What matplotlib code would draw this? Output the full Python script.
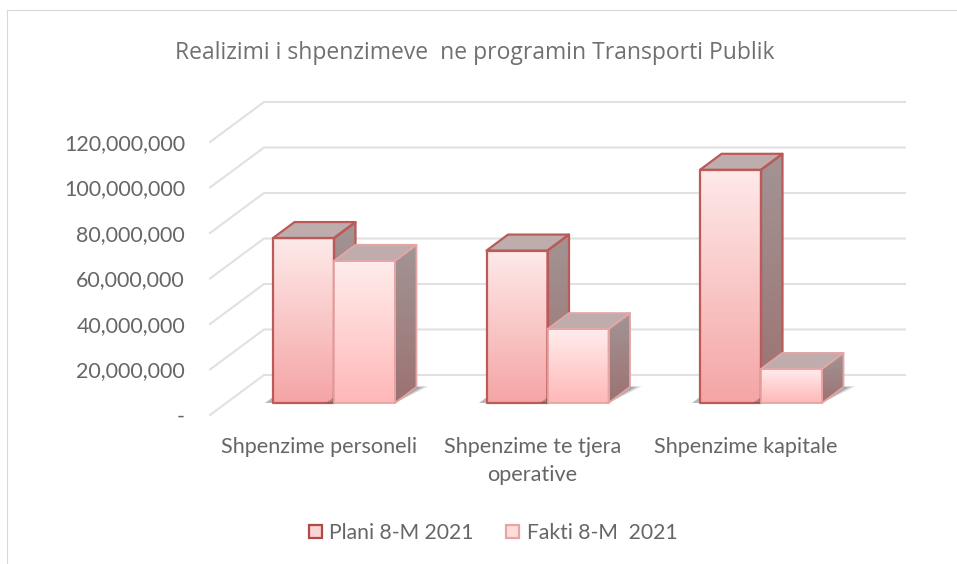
import numpy as np
import matplotlib.pyplot as plt
from matplotlib.patches import Patch, Polygon

plt.rcParams['font.family'] = ['Lato', 'DejaVu Sans']

categories = ['Shpenzime personeli', 'Shpenzime te tjera\noperative', 'Shpenzime kapitale']
plani = [72500000, 67000000, 102500000]
fakti = [62500000, 32500000, 15000000]
series_names = ['Plani 8-M 2021', 'Fakti 8-M  2021']
tick_values = [0, 20000000, 40000000, 60000000, 80000000, 100000000, 120000000]
tick_labels = ['-', '20,000,000', '40,000,000', '60,000,000', '80,000,000', '100,000,000', '120,000,000']
title = 'Realizimi i shpenzimeve  ne programin Transporti Publik'

W, H = 957, 564
fig = plt.figure(figsize=(W / 100, H / 100), dpi=100)
ax = fig.add_axes([210 / W, (H - 420) / H, 695 / W, 325 / H])

# skala: 213.5 px per kategori, 45.5 px per 20 juta
x_left, x_right = (210 - 334) / 213.5, (905 - 334) / 213.5
px_y = 20000000 / 45.5
ax.set_xlim(x_left, x_right)
ax.set_ylim(-17 * px_y, 308 * px_y)
ax.set_aspect('auto')

bar_w = 61 / 213.5
bar_dx = 21.5 / 213.5
bar_dy = 16 * px_y
floor_front = -12 * px_y
floor_back = 28 * px_y
wall_x = (264 - 334) / 213.5


def gradient(ax, top, bottom, extent, clip):
    c = np.linspace(0, 1, 64)[:, None, None]
    img = (1 - c) * np.array(top)[None, None, :] + c * np.array(bottom)[None, None, :]
    im = ax.imshow(img, extent=extent, aspect='auto', origin='upper', zorder=clip.get_zorder(),
                   interpolation='bilinear')
    im.set_clip_path(clip)
    im.set_clip_on(True)


def rgb(h):
    return plt.matplotlib.colors.to_rgb(h)


def bar3d(ax, x0, v, front_top, front_bot, edge, lw, z):
    x1 = x0 + bar_w
    # bayangan
    for k, a in [(1.55, 0.18), (1.35, 0.25), (1.15, 0.3)]:
        ax.add_patch(Polygon([(x1, 0), (x1 + bar_dx * k, bar_dy * 1.05), (x1 + bar_dx, bar_dy)],
                             fc='#303030', ec='none', alpha=a, zorder=z))
    ax.add_patch(Polygon([(x0 - bar_dx * 0.35, 0), (x0, 0), (x0, bar_dy * 0.35)],
                         fc='#505050', ec='none', alpha=0.4, zorder=z))

    front = Polygon([(x0, 0), (x1, 0), (x1, v), (x0, v)], closed=True, fc='none', ec='none', zorder=z + 0.1,
                    transform=ax.transData)
    ax.add_patch(front)
    gradient(ax, rgb(front_top), rgb(front_bot), (x0, x1, 0, v), front)

    side = Polygon([(x1, 0), (x1 + bar_dx, bar_dy), (x1 + bar_dx, v + bar_dy), (x1, v)], fc='none', ec='none',
                   zorder=z + 0.1)
    ax.add_patch(side)
    gradient(ax, rgb('#a39494'), rgb('#9c7272'), (x1, x1 + bar_dx, 0, v + bar_dy), side)

    ax.add_patch(Polygon([(x0, v), (x1, v), (x1 + bar_dx, v + bar_dy), (x0 + bar_dx, v + bar_dy)],
                         fc='#bfadad', ec=edge, lw=lw, joinstyle='round', zorder=z + 0.2))
    ax.add_patch(Polygon([(x1, 0), (x1 + bar_dx, bar_dy), (x1 + bar_dx, v + bar_dy), (x1, v)],
                         fc='none', ec=edge, lw=lw, joinstyle='round', zorder=z + 0.2))
    ax.add_patch(Polygon([(x0, 0), (x1, 0), (x1, v), (x0, v)],
                         fc='none', ec=edge, lw=lw, joinstyle='round', zorder=z + 0.3))


# garis grid dinding belakang dan samping
for v in tick_values:
    ax.plot([x_left, wall_x, x_right], [v + floor_front, v + floor_back, v + floor_back],
            color='#e1e1e1', lw=1.5, zorder=1, clip_on=False)

for i in range(len(categories)):
    bar3d(ax, i - bar_w, plani[i], '#fee9e9', '#f5a5a5', '#bb5a58', 1.6, 3 + i * 2)
    bar3d(ax, i, fakti[i], '#ffecec', '#ffb8b8', '#e5a5a5', 1.3, 4 + i * 2)

for s in ax.spines.values():
    s.set_visible(False)

ax.set_yticks([v + floor_front for v in tick_values])
ax.set_yticklabels(tick_labels, fontsize=15.4, color='#666666')
ax.set_xticks([i - 15 / 213.5 for i in range(len(categories))])
ax.set_xticklabels(categories, fontsize=15.6, color='#666666', linespacing=1.5)
ax.tick_params(axis='both', length=0)
ax.tick_params(axis='y', pad=18)
ax.tick_params(axis='x', pad=12)

fig.text(475 / W, 1 - 53 / H, title, ha='center', va='center', fontsize=16.5, color='#707070',
         family=['Open Sans', 'DejaVu Sans'])

handles = [Patch(fc='#fad5d5', ec='#b04a48', lw=1.6), Patch(fc='#ffdcdc', ec='#e5a5a5', lw=1.6)]
fig.legend(handles, series_names, loc='center', bbox_to_anchor=(493 / W, 1 - 533 / H), ncols=2, frameon=False,
           fontsize=15.2, labelcolor='#666666', handlelength=0.62, handleheight=0.62, handletextpad=0.35,
           columnspacing=1.55)

# bingkai grafik
fig.add_artist(plt.Line2D([7 / W, 7 / W, 1], [0, 1 - 10 / H, 1 - 10 / H], color='#d9d9d9', lw=0.8))

fig.savefig('out.png', dpi=100)
